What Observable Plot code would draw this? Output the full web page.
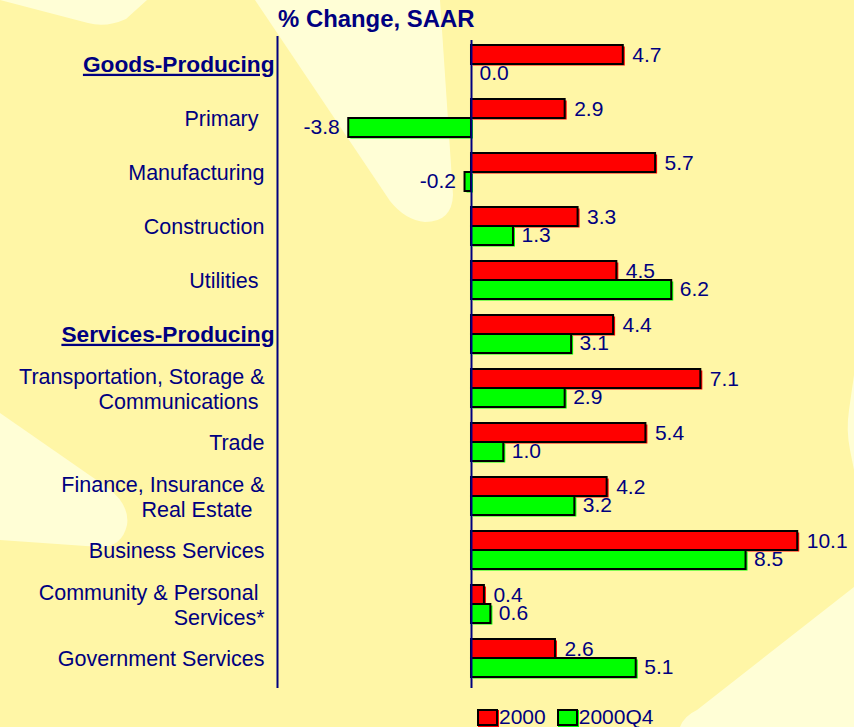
<!DOCTYPE html>
<html>
<head>
<meta charset="utf-8">
<script src="https://cdn.jsdelivr.net/npm/d3@7"></script>
<script src="https://cdn.jsdelivr.net/npm/@observablehq/plot@0.6"></script>
<style>
  html, body { margin: 0; padding: 0; }
  body { background: #FFF6A6; font-family: "Liberation Sans", Arial, sans-serif; }
  #wrap { position: relative; width: 854px; height: 727px; overflow: hidden; }
  #bg { position: absolute; left: 0; top: 0; }
  #title { position: absolute; left: 278px; top: 5px; font-size: 23.9px; line-height: 27px; font-weight: bold; color: #000080; white-space: nowrap; }
  #chart { position: absolute; left: 0; top: 36px; }
  #legend { position: absolute; left: 477px; top: 705px; height: 24px; display: flex; align-items: center; font-size: 21px; color: #000080; }
  .sw { width: 17px; height: 13px; border: 2px solid #000; margin-right: 1px; }
  .lab { margin-right: 11px; }
</style>
</head>
<body>
<div id="wrap">
  <svg id="bg" width="854" height="727">
    <g fill="#FFFED6">
      <path d="M0,0 L88,23 Q106,28 126,19 L147,0 Z"/>
      <path d="M255,0 L440,0 L453,195 Q452,222 425,222 Q405,220 390,201 Z"/>
      <path d="M0,413 L108,488 Q130,505 127,525 Q122,547 100,547 L0,540 Z"/>
      <path d="M680,727 Q684,716 697,710 L854,587 L854,727 Z"/>
      <path d="M854,375 L849,410 Q846,430 850,450 L854,470 Z"/>
    </g>
  </svg>
  <div id="title">% Change, SAAR</div>
  <div id="chart"></div>
  <div id="legend"></div>
</div>
<script>
// ---- data ----
const categories = [
  "Goods-Producing", "Primary", "Manufacturing", "Construction", "Utilities",
  "Services-Producing", "Transportation, Storage & Communications", "Trade",
  "Finance, Insurance & Real Estate", "Business Services",
  "Community & Personal Services*", "Government Services"
];
const categoryLabels = [
  "Goods-Producing", "Primary\u00a0", "Manufacturing", "Construction", "Utilities\u00a0",
  "Services-Producing", "Transportation, Storage &\nCommunications\u00a0", "Trade",
  "Finance, Insurance &\nReal Estate\u00a0\u00a0", "Business Services",
  "Community & Personal\u00a0\nServices*", "Government Services"
];
const headers = ["Goods-Producing", "Services-Producing"];
const seriesNames = ["2000", "2000Q4"];
const values2000   = [4.7, 2.9, 5.7, 3.3, 4.5, 4.4, 7.1, 5.4, 4.2, 10.1, 0.4, 2.6];
const values2000Q4 = [0.0, -3.8, -0.2, 1.3, 6.2, 3.1, 2.9, 1.0, 3.2, 8.5, 0.6, 5.1];
const seriesColors = ["#FF0000", "#00FF00"];
const xDomain = [-6.006, 11.858];

// ---- build table ----
const rows = [];
categories.forEach((c, i) => {
  rows.push({category: c, series: seriesNames[0], value: values2000[i]});
  rows.push({category: c, series: seriesNames[1], value: values2000Q4[i]});
});
const labelOf = new Map(categories.map((c, i) => [c, categoryLabels[i]]));
const navy = "#000080";
const fmt = d3.formatLocale({decimal: ".", thousands: ",", grouping: [3], currency: ["", ""], minus: "-"}).format(".1f");
const s0 = rows.filter(d => d.series === seriesNames[0]);
const s1 = rows.filter(d => d.series === seriesNames[1]);
const half = 19;

const chart = Plot.plot({
  width: 854,
  height: 652,
  marginLeft: 277,
  marginRight: 0,
  marginTop: 0,
  marginBottom: 0,
  x: {domain: xDomain, axis: null},
  y: {domain: categories, range: [1, 649], paddingInner: 0.2963, paddingOuter: 0.148, axis: null},
  style: {background: "transparent", fontFamily: "'Liberation Sans', Arial, sans-serif", overflow: "visible"},
  marks: [
    // shadow bars
    Plot.barX(s0, {x: "value", y: "category", fill: seriesColors[0], insetBottom: half, dx: 2, dy: 1.5}),
    Plot.barX(s1, {x: "value", y: "category", fill: seriesColors[1], insetTop: half, dx: 2, dy: 1.5}),
    // main bars
    Plot.barX(s0, {x: "value", y: "category", fill: seriesColors[0], stroke: "#000", strokeWidth: 2, insetBottom: half}),
    Plot.barX(s1, {x: "value", y: "category", fill: seriesColors[1], stroke: "#000", strokeWidth: 2, insetTop: half}),
    // axis lines
    Plot.ruleX([xDomain[0]], {stroke: navy, strokeWidth: 2}),
    Plot.ruleX([0], {stroke: navy, strokeWidth: 2, insetTop: 4}),
    // value labels
    Plot.text(s0.filter(d => d.value >= 0), {x: "value", y: "category", text: d => fmt(d.value), dy: -9.5, dx: 9, textAnchor: "start", fill: navy, fontSize: 21}),
    Plot.text(s0.filter(d => d.value < 0), {x: "value", y: "category", text: d => fmt(d.value), dy: -9.5, dx: -9, textAnchor: "end", fill: navy, fontSize: 21}),
    Plot.text(s1.filter(d => d.value >= 0), {x: "value", y: "category", text: d => fmt(d.value), dy: 9, dx: 8, textAnchor: "start", fill: navy, fontSize: 21}),
    Plot.text(s1.filter(d => d.value < 0), {x: "value", y: "category", text: d => fmt(d.value), dy: 9, dx: -9, textAnchor: "end", fill: navy, fontSize: 21}),
    // category labels
    Plot.text(categories.filter(c => !headers.includes(c)), {y: d => d, text: d => labelOf.get(d), frameAnchor: "left", textAnchor: "end", dx: -13, fontSize: 21.5, lineHeight: 1.16, fill: navy}),
    Plot.text(categories.filter(c => headers.includes(c)), {y: d => d, text: d => labelOf.get(d), frameAnchor: "left", textAnchor: "end", dx: -3, fontSize: 22.7, fontWeight: "bold", fill: navy})
  ]
});
document.getElementById("chart").appendChild(chart);
d3.select(chart).selectAll("text")
  .filter(function() { return headers.includes(this.textContent); })
  .style("text-decoration", "underline");

// legend
const legend = d3.select("#legend");
seriesNames.forEach((s, i) => {
  legend.append("div").attr("class", "sw")
    .style("background", seriesColors[i])
    .style("box-shadow", `1px 1px 0 ${seriesColors[i]}`);
  legend.append("span").attr("class", "lab").text(s);
});
</script>
</body>
</html>
